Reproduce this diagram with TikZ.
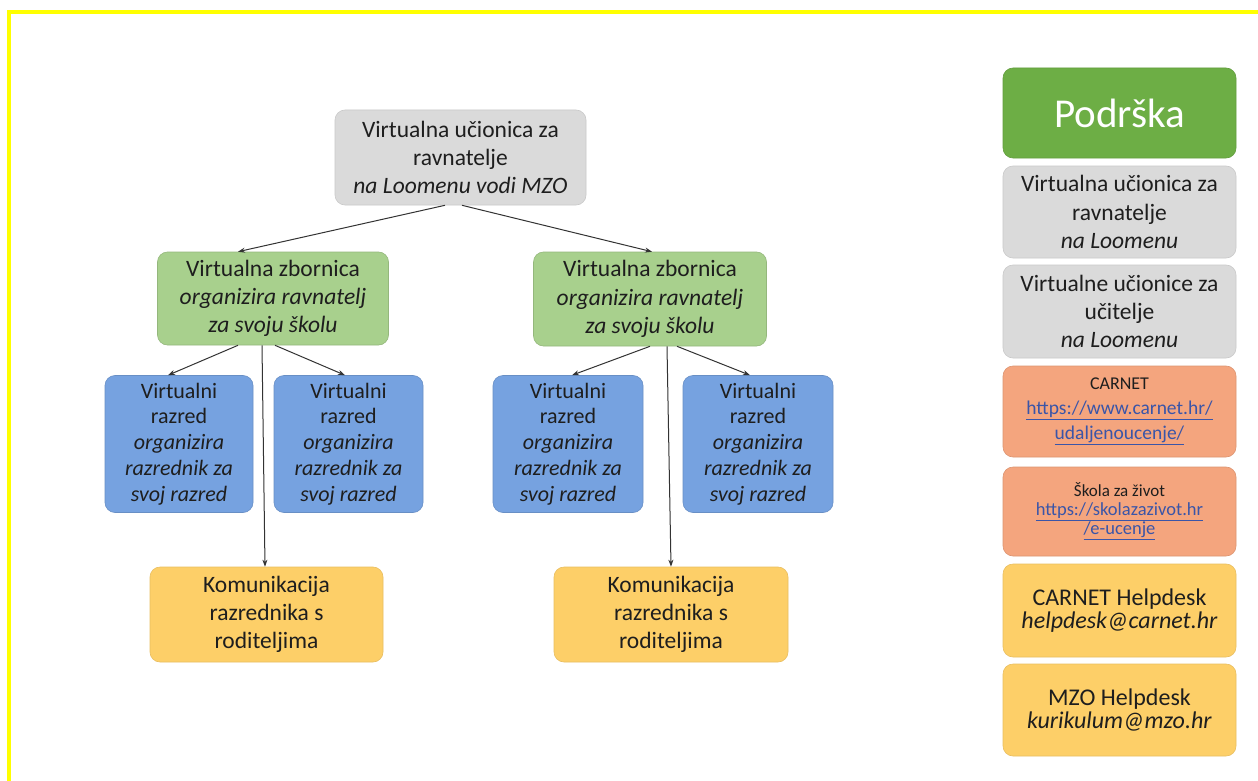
\documentclass[tikz,border=0pt]{standalone}
\usepackage{fontspec}
\setmainfont{Carlito}
\usetikzlibrary{arrows.meta}
\definecolor{boxgray}{HTML}{DADADA}
\definecolor{boxgreen}{HTML}{A8D08D}
\definecolor{headgreen}{HTML}{6DAE45}
\definecolor{boxblue}{HTML}{76A2E0}
\definecolor{boxorange}{HTML}{F4A57E}
\definecolor{boxyellow}{HTML}{FDCF68}
\definecolor{txt}{HTML}{1E1E1E}
\definecolor{linkblue}{HTML}{3A55A8}
\definecolor{frameyellow}{HTML}{FFFF00}
\newcommand{\fmain}{\fontsize{23.5}{28.3}\selectfont}
\newcommand{\fblue}{\fontsize{22}{25.8}\selectfont}
\newcommand{\fhelp}{\fontsize{24}{23}\selectfont}
\newcommand{\lnk}[1]{\textcolor{linkblue}{\underline{#1}}}
\tikzset{
  basebox/.style={rounded corners=10pt, inner sep=0pt, align=center, text=txt, anchor=center, line width=0.6pt},
  graybox/.style={basebox, fill=boxgray, draw=boxgray!92!black, font=\fmain},
  greenbox/.style={basebox, fill=boxgreen, draw=boxgreen!88!black, font=\fmain},
  bluebox/.style={basebox, fill=boxblue, draw=boxblue!88!black, font=\fblue},
  yellowbox/.style={basebox, fill=boxyellow, draw=boxyellow!92!black, font=\fmain},
  orangebox/.style={basebox, fill=boxorange, draw=boxorange!90!black},
  headbox/.style={basebox, fill=headgreen, draw=headgreen!90!black, text=white, font=\fontsize{41}{46}\selectfont},
  conn/.style={draw=black!80, line width=1pt, -{Stealth[length=7pt,width=5pt]}}
}
\begin{document}
\begin{tikzpicture}[x=1pt,y=-1pt]
\useasboundingbox (0,0) rectangle (1258,781);
\fill[white] (0,0) rectangle (1258,781);
% yellow frame (top and left edges visible)
\draw[frameyellow, line width=4pt] (9,781) -- (9,12) -- (1258,12);

% tree
\node[graybox, minimum width=251pt, minimum height=95pt] (top) at (460.5,157.5)
  {Virtualna učionica za\\ravnatelje\\\textit{na Loomenu vodi MZO}};
\node[greenbox, minimum width=231pt, minimum height=93pt] (gL) at (273,298.5)
  {Virtualna zbornica\\\textit{organizira ravnatelj}\\\textit{za svoju školu}};
\node[greenbox, minimum width=233pt, minimum height=94pt] (gR) at (650,299)
  {Virtualna zbornica\\\textit{organizira ravnatelj}\\\textit{za svoju školu}};
\node[bluebox, minimum width=148pt, minimum height=137pt] (b1) at (179,444)
  {Virtualni\\razred\\\textit{organizira}\\\textit{razrednik za}\\\textit{svoj razred}};
\node[bluebox, minimum width=149pt, minimum height=137pt] (b2) at (348.5,444)
  {Virtualni\\razred\\\textit{organizira}\\\textit{razrednik za}\\\textit{svoj razred}};
\node[bluebox, minimum width=150pt, minimum height=137pt] (b3) at (568,444)
  {Virtualni\\razred\\\textit{organizira}\\\textit{razrednik za}\\\textit{svoj razred}};
\node[bluebox, minimum width=150pt, minimum height=137pt] (b4) at (758,444)
  {Virtualni\\razred\\\textit{organizira}\\\textit{razrednik za}\\\textit{svoj razred}};
\node[yellowbox, minimum width=233pt, minimum height=95pt] (yL) at (266.5,614.5)
  {Komunikacija\\razrednika s\\roditeljima};
\node[yellowbox, minimum width=234pt, minimum height=95pt] (yR) at (671,614.5)
  {Komunikacija\\razrednika s\\roditeljima};

% connectors
\draw[conn] ([xshift=-15.5pt]top.south) -- ([xshift=-35pt]gL.north);
\draw[conn] ([xshift=1.5pt]top.south) -- ([xshift=2pt]gR.north);
\draw[conn] ([xshift=-35pt]gL.south) -- ([xshift=-11pt]b1.north);
\draw[conn] ([xshift=2pt]gL.south) -- ([xshift=-3.5pt]b2.north);
\draw[conn] ([xshift=-11pt]gL.south) -- ([xshift=-1.5pt]yL.north);
\draw[conn] ([xshift=0pt]gR.south) -- ([xshift=4pt]b3.north);
\draw[conn] ([xshift=27pt]gR.south) -- ([xshift=-8pt]b4.north);
\draw[conn] ([xshift=17pt]gR.south) -- ([xshift=0pt]yR.north);

% right column
\node[headbox, minimum width=233pt, minimum height=90pt] (pod) at (1119.5,113) {Podrška};
\node[graybox, minimum width=233pt, minimum height=92pt] (s1) at (1119.5,212)
  {Virtualna učionica za\\ravnatelje\\\textit{na Loomenu}};
\node[graybox, minimum width=233pt, minimum height=93pt] (s2) at (1119.5,311.5)
  {Virtualne učionice za\\učitelje\\\textit{na Loomenu}};
\node[orangebox, minimum width=233pt, minimum height=91pt, font=\fontsize{19.5}{25}\selectfont] (s3) at (1119.5,411.5)
  {{\fontsize{18}{25}\selectfont CARNET}\\\lnk{https://www.carnet.hr/}\\\lnk{udaljenoucenje/}};
\node[orangebox, minimum width=233pt, minimum height=89pt, font=\fontsize{18.5}{19}\selectfont] (s4) at (1119.5,511.5)
  {{\fontsize{17}{19}\selectfont Škola za život}\\\lnk{https://skolazazivot.hr}\\\lnk{/e-ucenje}};
\node[yellowbox, minimum width=233pt, minimum height=93pt, font=\fhelp] (s5) at (1119.5,610.5)
  {CARNET Helpdesk\\\textit{helpdesk@carnet.hr}};
\node[yellowbox, minimum width=233pt, minimum height=92pt, font=\fhelp] (s6) at (1119.5,710)
  {MZO Helpdesk\\\textit{kurikulum@mzo.hr}};
\end{tikzpicture}
\end{document}
